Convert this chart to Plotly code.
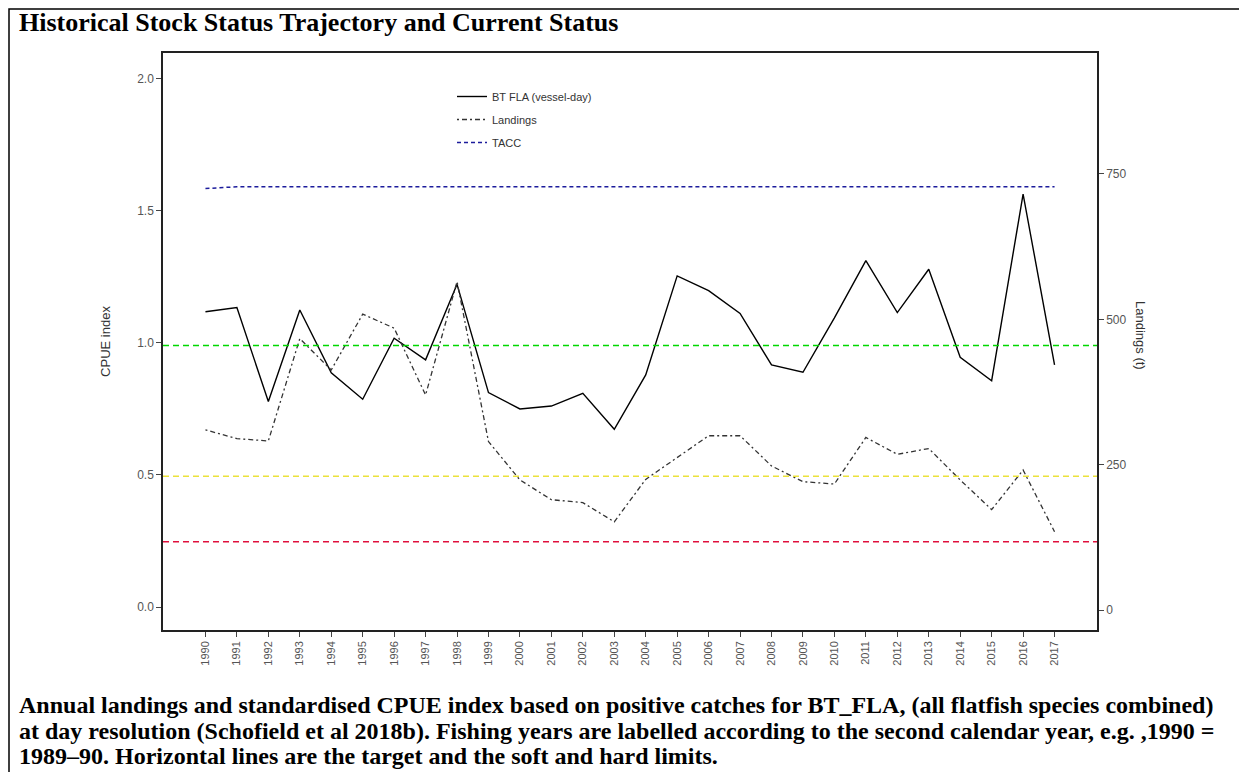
import plotly.graph_objects as go

# fishing years
years = list(range(1990, 2018))

# standardised CPUE index (left axis)
cpue = [1.118, 1.134, 0.778, 1.125, 0.887, 0.787, 1.018, 0.936, 1.222, 0.812,
        0.750, 0.761, 0.809, 0.673, 0.879, 1.254, 1.198, 1.112, 0.917, 0.889,
        1.095, 1.312, 1.115, 1.279, 0.946, 0.857, 1.564, 0.917]

# landings in tonnes (right axis)
landings = [310, 295, 291, 467, 413, 509, 485, 370, 565, 290,
            224, 190, 185, 152, 225, 263, 300, 300, 248, 221,
            217, 297, 268, 278, 224, 173, 241, 135]

# TACC (t)
tacc = [725] + [728] * 27

# reference levels on the CPUE scale: target, soft limit, hard limit
ref_levels = [0.99, 0.495, 0.2475]
ref_colors = ["#00d800", "#ece23a", "#e0103c"]

# the page body adds an 8px margin, so work in page pixels minus 8
OFF = 8
W, H = 1247 - OFF, 772 - OFF
L, R, T, B = 163 - OFF, 1097 - OFF, 53 - OFF, 630 - OFF


def px(x):
    return (x - OFF - L) / (R - L)


def py(y):
    return (B - (y - OFF)) / (B - T)


fig = go.Figure()

fig.add_trace(go.Scatter(
    x=years, y=cpue, mode="lines", name="BT FLA (vessel-day)",
    line=dict(color="black", width=1.4), legendgroup="a"))
fig.add_trace(go.Scatter(
    x=years, y=landings, mode="lines", name="Landings", yaxis="y2",
    line=dict(color="#333333", width=1.3, dash="2px,3px,5px,3px"), legendgroup="b"))
fig.add_trace(go.Scatter(
    x=years, y=tacc, mode="lines", name="TACC", yaxis="y2",
    line=dict(color="#1c1c9c", width=1.5, dash="4px,3px"), legendgroup="c"))

shapes = []
for lvl, col in zip(ref_levels, ref_colors):
    shapes.append(dict(type="line", xref="paper", x0=0, x1=1, yref="y", y0=lvl, y1=lvl,
                       line=dict(color=col, width=1.5, dash="6px,4px")))
# outer frame of the figure panel
shapes.append(dict(type="path", xref="paper", yref="paper",
                   path=f"M {px(9)} {py(800)} L {px(9)} {py(9)} L {px(1244)} {py(9)} L {px(1244)} {py(800)}",
                   line=dict(color="black", width=1.5)))

tick_font = dict(family="Liberation Sans, Arial", size=12, color="#555555")

fig.update_layout(
    width=W, height=H,
    margin=dict(l=L, r=W - R, t=T, b=H - B),
    paper_bgcolor="white", plot_bgcolor="white",
    shapes=shapes,
    showlegend=True,
    legend=dict(x=px(452), y=py(82), xanchor="left", yanchor="top",
                bgcolor="rgba(0,0,0,0)", tracegroupgap=4,
                font=dict(family="Liberation Sans, Arial", size=11, color="#333333")),
    xaxis=dict(range=[1988.65, 2018.35], tickmode="array", tickvals=years,
               ticktext=[str(y) for y in years], tickangle=-90,
               showgrid=False, zeroline=False, showline=True, linecolor="#222222",
               linewidth=1.5, mirror=True, ticks="outside", ticklen=5,
               tickcolor="#444444", tickfont=dict(family="Liberation Sans, Arial",
                                                  size=11, color="#555555")),
    yaxis=dict(range=[-0.087, 2.098], tickvals=[0, 0.5, 1.0, 1.5, 2.0],
               ticktext=["0.0", "0.5", "1.0", "1.5", "2.0"],
               showgrid=False, zeroline=False, showline=True, linecolor="#222222",
               linewidth=1.5, ticks="outside", ticklen=5, tickcolor="#444444",
               tickfont=tick_font,
               title=dict(text="CPUE index", standoff=24,
                          font=dict(family="Liberation Sans, Arial", size=13, color="#333333"))),
    yaxis2=dict(range=[-34, 958], tickvals=[0, 250, 500, 750], overlaying="y",
                side="right", showgrid=False, zeroline=False, showline=True,
                linecolor="#222222", linewidth=1.5, ticks="outside", ticklen=5,
                tickcolor="#444444", tickfont=tick_font),
    annotations=[
        dict(text="<b>Historical Stock Status Trajectory and Current Status</b>",
             xref="paper", yref="paper", x=px(17), y=py(23), xanchor="left",
             yanchor="middle", showarrow=False,
             font=dict(family="Liberation Serif, Times New Roman", size=26, color="black")),
        dict(text="Landings (t)", xref="paper", yref="paper", x=px(1141), y=py(335),
             textangle=90, showarrow=False, xanchor="center", yanchor="middle",
             font=dict(family="Liberation Sans, Arial", size=13, color="#333333")),
        dict(text="<b>Annual landings and standardised CPUE index based on positive catches for BT_FLA, (all flatfish species combined)</b>",
             xref="paper", yref="paper", x=px(17), y=py(705), xanchor="left",
             yanchor="middle", showarrow=False,
             font=dict(family="Liberation Serif, Times New Roman", size=24, color="black")),
        dict(text="<b>at day resolution (Schofield et al 2018b). Fishing years are labelled according to the second calendar year, e.g. ,1990 =</b>",
             xref="paper", yref="paper", x=px(17), y=py(731), xanchor="left",
             yanchor="middle", showarrow=False,
             font=dict(family="Liberation Serif, Times New Roman", size=24, color="black")),
        dict(text="<b>1989–90. Horizontal lines are the target and the soft and hard limits.</b>",
             xref="paper", yref="paper", x=px(17), y=py(756), xanchor="left",
             yanchor="middle", showarrow=False,
             font=dict(family="Liberation Serif, Times New Roman", size=24, color="black")),
    ],
)

fig.write_html("out.html")
